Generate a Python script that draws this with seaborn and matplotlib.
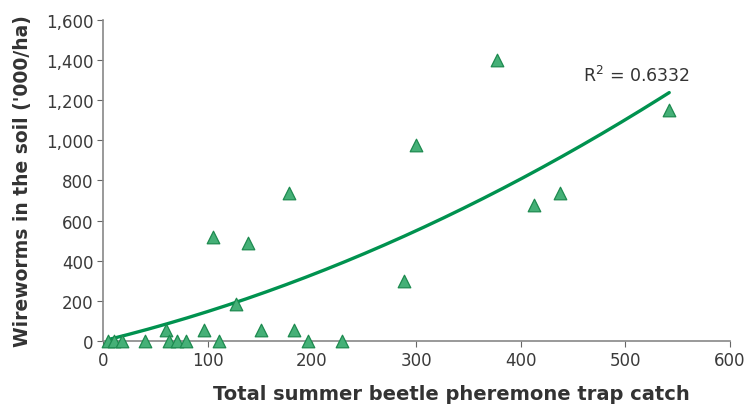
import numpy as np
import pandas as pd
import matplotlib
matplotlib.use("Agg")
import matplotlib.pyplot as plt
import seaborn as sns
from matplotlib.ticker import FuncFormatter

trap_catch = [5, 10, 18, 40, 60, 63, 71, 79, 97, 111, 127, 151, 183, 196, 229,
              105, 139, 178, 288, 300, 377, 413, 437, 542]
wireworms = [0, 0, 0, 0, 55, 0, 0, 0, 55, 0, 185, 55, 55, 0, 0,
             520, 490, 740, 300, 975, 1400, 680, 740, 1150]
r2_label = "R$^2$ = 0.6332"
x_ticks = [0, 100, 200, 300, 400, 500, 600]
y_ticks = [0, 200, 400, 600, 800, 1000, 1200, 1400, 1600]

df = pd.DataFrame({"catch": trap_catch, "worms": wireworms})

# second-order polynomial trendline with the intercept set to zero
xa = df["catch"].to_numpy(float)
ya = df["worms"].to_numpy(float)
coef, *_ = np.linalg.lstsq(np.column_stack([xa, xa ** 2]), ya, rcond=None)
fit_x = np.linspace(xa.min(), xa.max(), 200)
fit = pd.DataFrame({"catch": fit_x, "worms": coef[0] * fit_x + coef[1] * fit_x ** 2})

sns.set_theme(style="white")
plt.rcParams["font.family"] = ["DejaVu Sans"]

fig = plt.figure(figsize=(7.47, 4.06), dpi=100)
ax = fig.add_axes([0.138, 0.158, 0.839, 0.79])

sns.lineplot(data=fit, x="catch", y="worms", ax=ax, color="#00924f", linewidth=2.4, zorder=2)
sns.scatterplot(data=df, x="catch", y="worms", ax=ax, marker="^", s=82,
                color="#45b077", edgecolor="#1d8a4f", linewidth=0.9, zorder=3, clip_on=False)

ax.set_xlim(0, 600)
ax.set_ylim(0, 1600)
ax.set_xticks(x_ticks)
ax.set_yticks(y_ticks)
ax.yaxis.set_major_formatter(FuncFormatter(lambda v, p: f"{int(v):,}"))
ax.tick_params(axis="both", labelsize=12, colors="#666666", labelcolor="#3a3a3a",
               length=4, width=0.8, direction="out", bottom=True, left=True, pad=3)

for side in ["top", "right"]:
    ax.spines[side].set_visible(False)
for side in ["left", "bottom"]:
    ax.spines[side].set_color("#888888")
    ax.spines[side].set_linestyle((0, (1, 1)))
    ax.spines[side].set_linewidth(1.2)

ax.set_xlabel("Total summer beetle pheremone trap catch", fontsize=14, fontweight="bold",
              color="#333333")
ax.xaxis.set_label_coords(0.555, -0.135)
ax.set_ylabel("Wireworms in the soil ('000/ha)", fontsize=13.5, fontweight="bold",
              color="#333333")
ax.yaxis.set_label_coords(-0.113, 0.5)

ax.text(459, 1325, r2_label, fontsize=12.5, color="#333333", ha="left", va="center")

fig.savefig("out.png", dpi=100)
